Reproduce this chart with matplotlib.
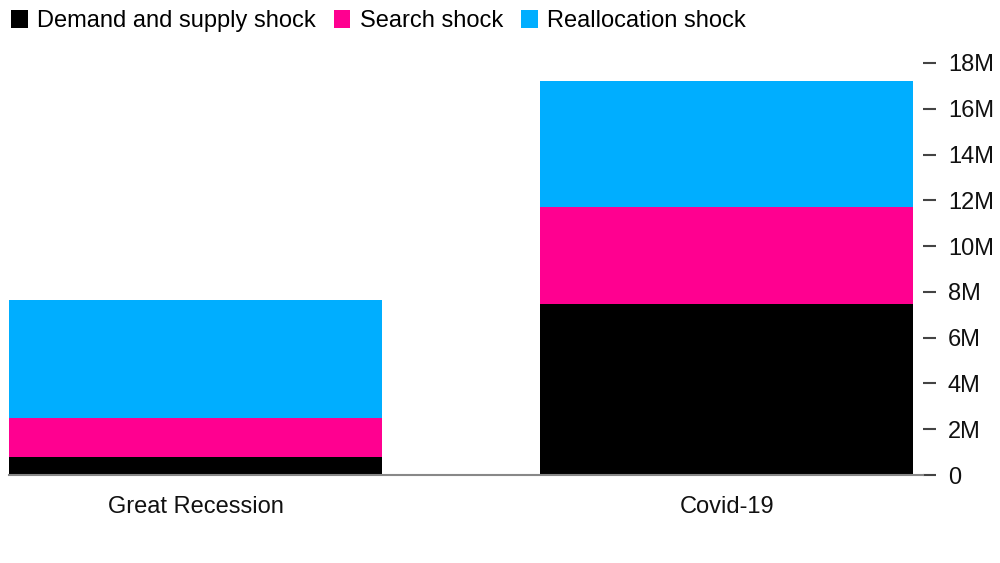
import matplotlib
matplotlib.use("Agg")
import matplotlib.pyplot as plt
from matplotlib.patches import Patch
from matplotlib.ticker import FuncFormatter

categories = ["Great Recession", "Covid-19"]
demand_supply = [0.77, 7.47]
search = [1.73, 4.25]
reallocation = [5.15, 5.51]
series_names = ["Demand and supply shock", "Search shock", "Reallocation shock"]
colors = ["#000000", "#ff0090", "#00aeff"]
yticks = [0, 2, 4, 6, 8, 10, 12, 14, 16, 18]

plt.rcParams['font.family'] = ['Liberation Sans', 'DejaVu Sans']

fig = plt.figure(figsize=(10, 5.63), dpi=100)
ax = fig.add_axes([0.009, 0.1563, 0.914, 0.7318])

x = list(range(len(categories)))
w = 0.702
bottom = [0.0] * len(categories)
for vals, col in zip([demand_supply, search, reallocation], colors):
    ax.bar(x, vals, width=w, bottom=bottom, color=col, linewidth=0, zorder=2)
    bottom = [b + v for b, v in zip(bottom, vals)]

ax.set_xlim(-0.351, 1.369)
ax.set_ylim(0, 18)
ax.set_yticks(yticks)
ax.yaxis.set_major_formatter(FuncFormatter(lambda v, p: "0" if v == 0 else f"{int(v)}M"))
ax.yaxis.tick_right()
ax.tick_params(axis='y', length=9, width=1.5, color='#444444', pad=9,
               labelsize=17, labelcolor='#111111')
ax.set_xticks(x)
ax.set_xticklabels(categories)
ax.tick_params(axis='x', length=0, pad=15, labelsize=17, labelcolor='#111111')

for s in ['top', 'left', 'right']:
    ax.spines[s].set_visible(False)
ax.spines['bottom'].set_color('#888888')
ax.spines['bottom'].set_linewidth(1.5)
ax.spines['bottom'].set_zorder(3)

handles = [Patch(facecolor=c, edgecolor='none') for c in colors]
fig.legend(handles, series_names, loc='upper left', bbox_to_anchor=(-0.003, 1.007),
           ncol=3, frameon=False, fontsize=17, handlelength=0.7, handleheight=0.75,
           handletextpad=0.4, columnspacing=0.76, borderaxespad=0.2)

fig.savefig("out.png", dpi=100, facecolor='white')
